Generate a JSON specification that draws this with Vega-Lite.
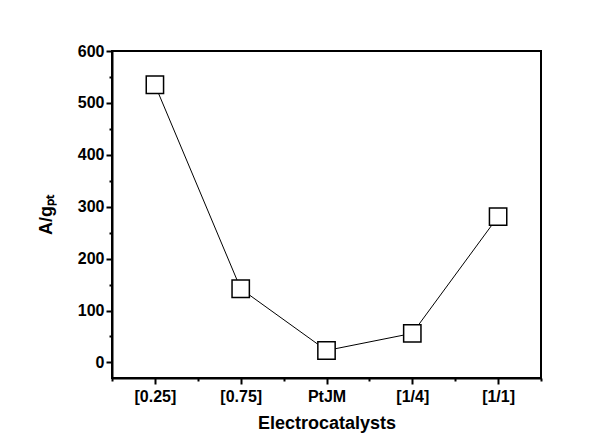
{
  "$schema": "https://vega.github.io/schema/vega-lite/v6.json",
  "autosize": {"type": "none"},
  "padding": {"left": 112, "top": 51, "right": 65, "bottom": 67},
  "width": 429,
  "height": 327,
  "background": "white",
  "config": {
    "view": {"stroke": "black", "strokeWidth": 2},
    "font": "Liberation Sans",
    "axis": {
      "domainColor": "black",
      "domainWidth": 2,
      "tickColor": "black",
      "tickWidth": 2,
      "grid": false,
      "labelFont": "Liberation Sans",
      "labelFontWeight": "bold",
      "labelColor": "black",
      "titleFont": "Liberation Sans",
      "titleFontWeight": "bold",
      "titleColor": "black"
    }
  },
  "data": {
    "values": [
      {"catalyst": "[0.25]", "idx": 1, "value": 535},
      {"catalyst": "[0.75]", "idx": 2, "value": 142},
      {"catalyst": "PtJM", "idx": 3, "value": 23},
      {"catalyst": "[1/4]", "idx": 4, "value": 56},
      {"catalyst": "[1/1]", "idx": 5, "value": 281}
    ]
  },
  "encoding": {
    "x": {
      "field": "idx",
      "type": "quantitative",
      "scale": {"domain": [0.5, 5.5], "nice": false, "zero": false},
      "axis": {
        "title": "Electrocatalysts",
        "titleFontSize": 18,
        "titlePadding": 10,
        "labelFontSize": 16,
        "labelPadding": 4,
        "values": [0.5, 1, 1.5, 2, 2.5, 3, 3.5, 4, 4.5, 5, 5.5],
        "labelExpr": "datum.value == 1 ? '[0.25]' : datum.value == 2 ? '[0.75]' : datum.value == 3 ? 'PtJM' : datum.value == 4 ? '[1/4]' : datum.value == 5 ? '[1/1]' : ''",
        "tickSize": {"condition": {"test": "datum.value % 1 === 0", "value": 6}, "value": 3},
        "labelFlush": false,
        "labelOverlap": false
      }
    },
    "y": {
      "field": "value",
      "type": "quantitative",
      "scale": {"domain": [-30, 600], "nice": false, "zero": false},
      "axis": {
        "title": "A/gₚₜ",
        "titleFontSize": 18,
        "titlePadding": 22,
        "labelFontSize": 16,
        "labelPadding": 2,
        "values": [0, 50, 100, 150, 200, 250, 300, 350, 400, 450, 500, 550, 600],
        "labelExpr": "datum.value % 100 === 0 ? datum.label : ''",
        "tickSize": {"condition": {"test": "datum.value % 100 === 0", "value": 6}, "value": 3},
        "labelFlush": false,
        "labelOverlap": false
      }
    }
  },
  "layer": [
    {"mark": {"type": "line", "color": "black", "strokeWidth": 1}},
    {"mark": {"type": "point", "shape": "square", "size": 300, "filled": true, "fill": "white", "stroke": "black", "strokeWidth": 1.5, "opacity": 1}}
  ]
}
